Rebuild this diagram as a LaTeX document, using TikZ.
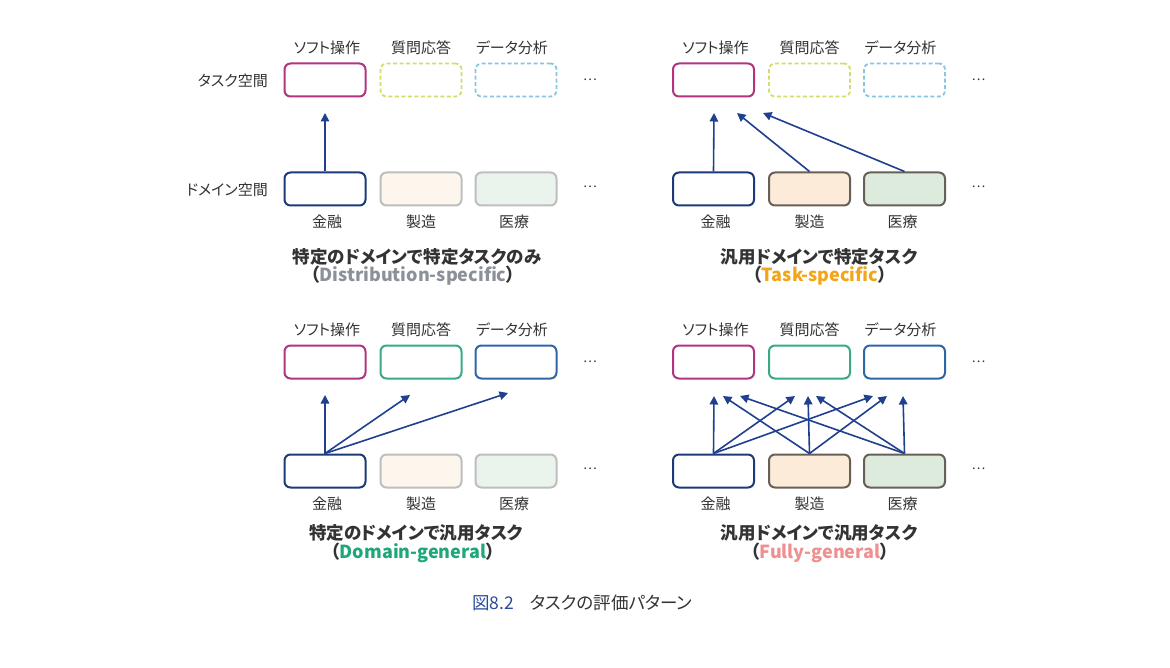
\documentclass[tikz,border=0pt]{standalone}
\usepackage{fontspec}
\setmainfont{Noto Sans CJK JP}[RawFeature=+palt]
\usetikzlibrary{arrows.meta}
\definecolor{cmag}{HTML}{B2337F}
\definecolor{cyel}{HTML}{D4DC6A}
\definecolor{clbl}{HTML}{86C6E0}
\definecolor{cgrn}{HTML}{3AAA80}
\definecolor{cblu}{HTML}{2E66A8}
\definecolor{cnavy}{HTML}{1D3A78}
\definecolor{carr}{HTML}{1F3F8F}
\definecolor{cgry}{HTML}{BEBEBE}
\definecolor{ccream}{HTML}{FDF6EC}
\definecolor{cmint}{HTML}{EAF3EC}
\definecolor{cdark}{HTML}{666058}
\definecolor{cpeach}{HTML}{FCEBD8}
\definecolor{cmint2}{HTML}{DDEBDD}
\definecolor{ctxt}{HTML}{333333}
\definecolor{csubg}{HTML}{8C9099}
\definecolor{csubo}{HTML}{F2A516}
\definecolor{csubgr}{HTML}{1EA77A}
\definecolor{csubp}{HTML}{EE9090}
\definecolor{ccap}{HTML}{2B4C9A}
\tikzset{
  box/.style={rounded corners=6pt, minimum width=81pt, minimum height=33pt, line width=2pt, inner sep=0pt, fill=white},
  tsoft/.style={draw=cmag},
  tqa/.style={draw=cyel, dash pattern=on 4pt off 2.5pt, line width=1.8pt},
  tda/.style={draw=clbl, dash pattern=on 4pt off 2.5pt, line width=1.8pt},
  tqaon/.style={draw=cgrn},
  tdaon/.style={draw=cblu},
  dfin/.style={draw=cnavy},
  dmfoff/.style={draw=cgry, fill=ccream},
  dmedoff/.style={draw=cgry, fill=cmint},
  dmfon/.style={draw=cdark, fill=cpeach},
  dmedon/.style={draw=cdark, fill=cmint2},
  lbl/.style={font=\fontsize{15}{17}\selectfont, text=ctxt, inner sep=0pt},
  dots/.style={font=\fontsize{13}{15}\selectfont, text=ctxt, inner sep=0pt},
  ttl/.style={font=\fontsize{17.5}{19}\selectfont\bfseries, text=ctxt, inner sep=0pt},
  sub/.style={font=\fontsize{18}{20}\selectfont\bfseries, text=ctxt, inner sep=0pt},
  arr/.style={draw=carr, line width=1.6pt, -{Triangle[length=8.5pt,width=8.5pt]}},
}
\newcommand{\mypanel}[8]{%
\begin{scope}[shift={(#2,#3)}]
\node[box,tsoft] (#1t1) at (325,80) {};
\node[box,#4] (#1t2) at (421,80) {};
\node[box,#5] (#1t3) at (516,80) {};
\node[box,dfin] (#1d1) at (325,189) {};
\node[box,#6] (#1d2) at (421,189) {};
\node[box,#7] (#1d3) at (516,189) {};
\node[lbl] (#1l1) at (327,48) {ソフト操作};
\node[lbl] (#1l2) at (421,48) {質問応答};
\node[lbl] (#1l3) at (512,48) {データ分析};
\node[lbl] (#1m1) at (327,222) {金融};
\node[lbl] (#1m2) at (421,222) {製造};
\node[lbl] (#1m3) at (514,222) {医療};
\node[dots] (#1dt) at (590,80) {…};
\node[dots] (#1dd) at (590,187) {…};
#8
\end{scope}}
\begin{document}
\begin{tikzpicture}[x=1pt,y=-1pt]
\useasboundingbox[fill=white] (0,0) rectangle (1170,668);
\mypanel{A}{0}{0}{tqa}{tda}{dmfoff}{dmedoff}{}
\mypanel{B}{388.5}{0}{tqa}{tda}{dmfon}{dmedon}{}
\mypanel{C}{0}{282}{tqaon}{tdaon}{dmfoff}{dmedoff}{}
\mypanel{D}{388.5}{282}{tqaon}{tdaon}{dmfon}{dmedon}{}
% side labels
\node[lbl, anchor=east] (sp1) at (268,81) {タスク空間};
\node[lbl, anchor=east] (sp2) at (268,190) {ドメイン空間};
% arrows panel A
\coordinate (Ae1) at (325,113);
\draw[arr] (Ad1.north) -- (Ae1);
% panel B
\coordinate (Be1) at (714,113);
\coordinate (Be2) at (737,113);
\coordinate (Be3) at (763,113);
\draw[arr] (Bd1.north) -- (Be1);
\draw[arr] (Bd2.north) -- (Be2);
\draw[arr] (Bd3.north) -- (Be3);
% panel C
\coordinate (Ce1) at (325,395);
\coordinate (Ce2) at (410,395);
\coordinate (Ce3) at (508,393);
\draw[arr] (Cd1.north) -- (Ce1);
\draw[arr] (Cd1.north) -- (Ce2);
\draw[arr] (Cd1.north) -- (Ce3);
% panel D
\coordinate (De11) at (714,396);
\coordinate (De12) at (795,396);
\coordinate (De13) at (873,396);
\coordinate (De21) at (723,396);
\coordinate (De22) at (808,396);
\coordinate (De23) at (887,396);
\coordinate (De31) at (740,396);
\coordinate (De32) at (816,396);
\coordinate (De33) at (903,396);
\draw[arr] (Dd1.north) -- (De11);
\draw[arr] (Dd1.north) -- (De12);
\draw[arr] (Dd1.north) -- (De13);
\draw[arr] (Dd2.north) -- (De21);
\draw[arr] (Dd2.north) -- (De22);
\draw[arr] (Dd2.north) -- (De23);
\draw[arr] (Dd3.north) -- (De31);
\draw[arr] (Dd3.north) -- (De32);
\draw[arr] (Dd3.north) -- (De33);
% titles
\node[ttl] (T1) at (417,257) {特定のドメインで特定タスクのみ};
\node[sub] (S1) at (413,276) {（\textcolor{csubg}{Distribution-specific}）};
\node[ttl] (T2) at (819,257) {汎用ドメインで特定タスク};
\node[sub] (S2) at (820,276) {（\textcolor{csubo}{Task-specific}）};
\node[ttl] (T3) at (416,533) {特定のドメインで汎用タスク};
\node[sub] (S3) at (413,553) {（\textcolor{csubgr}{Domain-general}）};
\node[ttl] (T4) at (819,533) {汎用ドメインで汎用タスク};
\node[sub] (S4) at (820,553) {（\textcolor{csubp}{Fully-general}）};
% caption
\node[font=\fontsize{17.5}{19}\selectfont, inner sep=0pt, anchor=west] (cap) at (472,603) {\textcolor{ccap}{図8.2}\hspace{16pt}\textcolor{ctxt}{タスクの評価パターン}};
\end{tikzpicture}
\end{document}
